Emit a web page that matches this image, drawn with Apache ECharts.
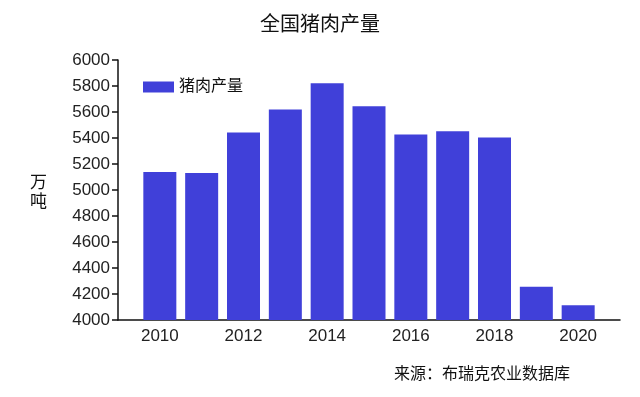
<!DOCTYPE html>
<html>
<head>
<meta charset="utf-8">
<script src="https://cdn.jsdelivr.net/npm/echarts@6/dist/echarts.min.js"></script>
<style>html,body{margin:0;padding:0;background:#fff}#c{width:640px;height:397px}</style>
</head>
<body>
<div id="c"></div>
<script>
var years = [2010, 2011, 2012, 2013, 2014, 2015, 2016, 2017, 2018, 2019, 2020];
var pork = [5138, 5131, 5443, 5619, 5821, 5645, 5426, 5452, 5404, 4255, 4113];
var yTicks = [4000, 6000, 200];
var FONT = 'Liberation Sans, "Noto Sans CJK SC", sans-serif';
var chart = echarts.init(document.getElementById('c'));
chart.setOption({
  animation: false,
  backgroundColor: '#fff',
  title: {
    text: '全国猪肉产量', left: 'center', top: 10,
    textStyle: {fontSize: 20, fontWeight: 'normal', color: '#111', fontFamily: FONT}
  },
  legend: {
    left: 138, top: 74, itemWidth: 31, itemHeight: 11, icon: 'rect', itemGap: 6,
    textStyle: {fontSize: 16, color: '#111', fontFamily: FONT},
    data: ['猪肉产量']
  },
  grid: {left: 118, right: 20, top: 60, bottom: 77},
  xAxis: {
    type: 'value', min: 2009, max: 2021, interval: 1,
    axisLine: {lineStyle: {color: '#111', width: 1.5}},
    axisTick: {show: false},
    splitLine: {show: false},
    axisLabel: {
      fontSize: 17, color: '#222', margin: 8, fontFamily: FONT,
      formatter: function (v) { return (v % 2 === 0 && v >= 2010 && v <= 2020) ? String(v) : ''; }
    }
  },
  yAxis: {
    type: 'value', min: yTicks[0], max: yTicks[1], interval: yTicks[2],
    axisLine: {show: true, lineStyle: {color: '#111', width: 1.5}},
    axisTick: {show: true, length: 6, lineStyle: {color: '#111', width: 1.5}},
    splitLine: {show: false},
    axisLabel: {fontSize: 17, color: '#222', margin: 8, fontFamily: FONT,
      formatter: function (v) { return String(v); }}
  },
  graphic: [
    {type: 'text', left: 30, top: 172, style: {text: '万\n吨', lineHeight: 19, fill: '#111', font: '17px "Noto Sans CJK SC"'}},
    {type: 'text', right: 70, top: 365, style: {text: '来源：布瑞克农业数据库', fill: '#111', font: '16px "Noto Sans CJK SC"'}}
  ],
  series: [{
    name: '猪肉产量', type: 'bar', barWidth: 33,
    itemStyle: {color: '#4040d9'},
    data: years.map(function (y, i) { return [y, pork[i]]; })
  }]
});
</script>
</body>
</html>
